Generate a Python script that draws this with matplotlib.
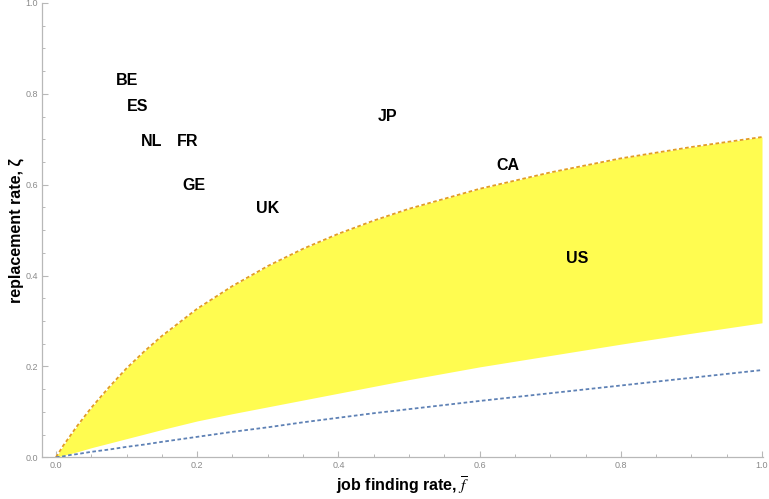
import matplotlib
matplotlib.use("Agg")
import matplotlib.pyplot as plt
from matplotlib.ticker import MultipleLocator

# Grid of job finding rates at which the bounds are tabulated
f_grid = [0.0, 0.01, 0.02, 0.03, 0.05, 0.075, 0.1, 0.125, 0.15, 0.2, 0.25, 0.3,
          0.35, 0.4, 0.45, 0.5, 0.6, 0.7, 0.8, 0.9, 1.0]
# Upper bound on the replacement rate (dotted orange)
zeta_upper = [0.0, 0.025, 0.047, 0.069, 0.109, 0.154, 0.196, 0.233, 0.267, 0.327,
              0.377, 0.421, 0.459, 0.492, 0.521, 0.547, 0.591, 0.627, 0.658, 0.683, 0.705]
# Lower edge of the admissible (shaded) region
zeta_lower = [0.0, 0.004, 0.008, 0.012, 0.021, 0.031, 0.041, 0.051, 0.061, 0.080,
              0.096, 0.111, 0.126, 0.141, 0.156, 0.171, 0.199, 0.224, 0.249, 0.273, 0.296]
# Lower bound (dotted blue)
zeta_floor = [0.0, 0.002, 0.005, 0.007, 0.012, 0.017, 0.023, 0.028, 0.034, 0.045,
              0.056, 0.066, 0.077, 0.087, 0.097, 0.106, 0.124, 0.141, 0.158, 0.175, 0.192]

# Country observations: (job finding rate, replacement rate)
countries = ["BE", "ES", "NL", "FR", "GE", "UK", "JP", "CA", "US"]
job_finding = [0.100, 0.115, 0.135, 0.187, 0.195, 0.300, 0.470, 0.640, 0.738]
replacement = [0.830, 0.773, 0.695, 0.695, 0.598, 0.547, 0.750, 0.642, 0.437]

plt.rcParams["mathtext.fontset"] = "stix"

fig = plt.figure(figsize=(7.69, 4.99), dpi=100)
ax = fig.add_axes([0.0546, 0.0836, 0.9376, 0.9104])

ax.fill_between(f_grid, zeta_lower, zeta_upper, color="#FFFC50", lw=0, zorder=1)
ax.plot(f_grid, zeta_upper, color="#E19C24", lw=1.3, ls=(0, (2.0, 1.4)), zorder=3)
ax.plot(f_grid, zeta_floor, color="#5E81B5", lw=1.3, ls=(0, (2.0, 1.4)), zorder=3)

for name, fx, zy in zip(countries, job_finding, replacement):
    ax.text(fx, zy, name, ha="center", va="center", fontsize=11.5,
            fontweight="bold", family="Liberation Sans", color="black", zorder=4)

ax.set_xlim(-0.0198, 1.0014)
ax.set_ylim(0.0, 1.0)

for side in ("top", "right"):
    ax.spines[side].set_visible(False)
for side in ("left", "bottom"):
    ax.spines[side].set_color("#B8B8B8")
    ax.spines[side].set_linewidth(0.9)

ax.xaxis.set_major_locator(MultipleLocator(0.2))
ax.xaxis.set_minor_locator(MultipleLocator(0.05))
ax.yaxis.set_major_locator(MultipleLocator(0.2))
ax.yaxis.set_minor_locator(MultipleLocator(0.05))
ax.xaxis.set_major_formatter(lambda v, p: f"{v:.1f}")
ax.yaxis.set_major_formatter(lambda v, p: f"{v:.1f}")

ax.tick_params(which="major", direction="in", length=4, width=0.8, color="#B8B8B8",
               labelsize=6.5, labelcolor="#8A8A8A", pad=3)
ax.tick_params(which="minor", direction="in", length=2.3, width=0.7, color="#B8B8B8")
for lab in ax.get_xticklabels() + ax.get_yticklabels():
    lab.set_family("Liberation Sans")

ax.set_xlabel(r"job finding rate, $\overline{f}$", fontsize=11.5, fontweight="bold",
              family="Liberation Sans", labelpad=3)
ax.set_ylabel("replacement rate, ζ", fontsize=11.5, fontweight="bold",
              family="Liberation Sans", labelpad=1)

fig.savefig("out.png", dpi=100, facecolor="white")
